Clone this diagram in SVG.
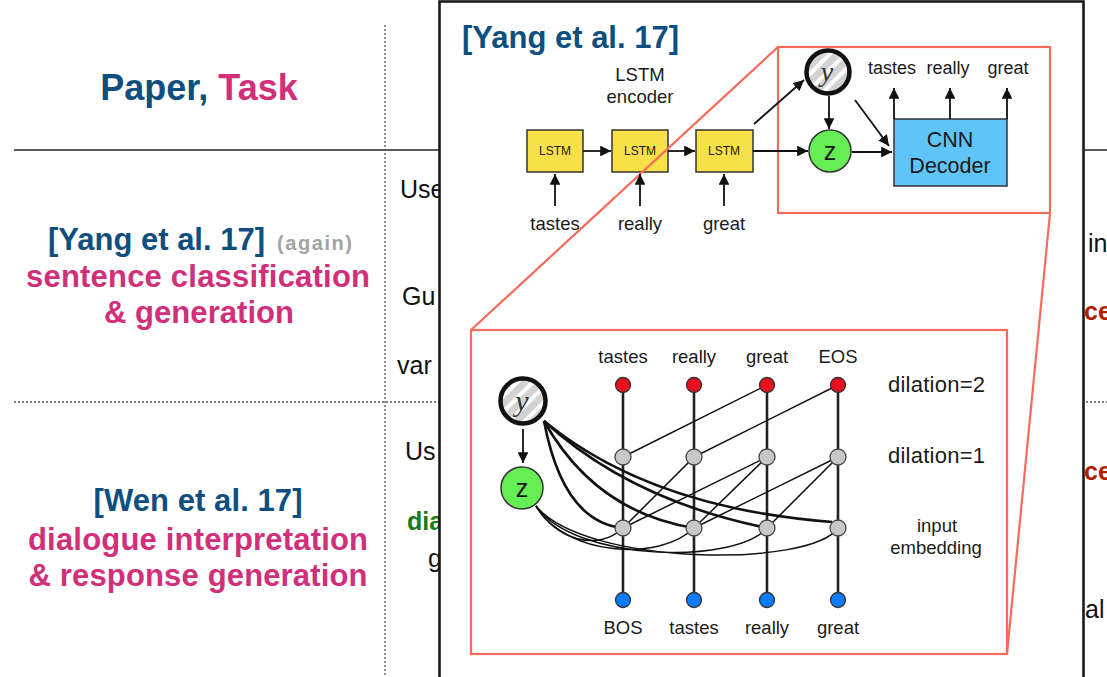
<svg xmlns="http://www.w3.org/2000/svg" width="1107" height="677" viewBox="0 0 1107 677">
  <style>
    .sans { font-family: "Liberation Sans", Arial, sans-serif; }
    .bold { font-family: "Liberation Sans", Arial, sans-serif; font-weight: bold; }
    .blue { fill: #0e4f80; }
    .pink { fill: #d12f7a; }
    .lbl { font-family: "Liberation Sans", Arial, sans-serif; fill: #1a1a1a; text-anchor: middle; }
    .rule { stroke: #222; stroke-width: 1.3; fill: none; }
    .dots { stroke: #555; stroke-width: 1.3; stroke-dasharray: 2 2; fill: none; }
    .arrow { stroke: #111; stroke-width: 1.8; fill: none; marker-end: url(#ah); }
    .stem { stroke: #222; stroke-width: 2.6; fill: none; }
    .thin { stroke: #111; stroke-width: 1.5; fill: none; }
    .thick { stroke: #111; stroke-width: 2.6; fill: none; }
    .zoomline { stroke: #f86a5a; stroke-width: 2.2; fill: none; }
    .lstm { fill: #f7e048; stroke: #333; stroke-width: 1.5; }
    .red { fill: #e8101e; stroke: #333; stroke-width: 1.3; }
    .grey { fill: #c8c8c8; stroke: #444; stroke-width: 1.3; }
    .bluen { fill: #0a7cff; stroke: #333; stroke-width: 1.3; }
    .znode { fill: #66ee55; stroke: #333; stroke-width: 1.5; }
    .ynode { fill: url(#hatch); stroke: #111; stroke-width: 4.5; }
    .ytext { font-family: "Liberation Serif", "Times New Roman", serif; font-style: italic; fill: #333; text-anchor: middle; }
  </style>
  <defs>
    <marker id="ah" viewBox="0 0 10 10" refX="10" refY="5" markerWidth="6" markerHeight="6" markerUnits="strokeWidth" orient="auto">
      <path d="M0,0 L10,5 L0,10 z" fill="#111"/>
    </marker>
    <pattern id="hatch" patternUnits="userSpaceOnUse" width="11" height="11" patternTransform="rotate(45)">
      <rect width="11" height="11" fill="#ffffff"/>
      <rect width="7" height="11" fill="#d2d2d2"/>
    </pattern>
  </defs>

  <rect width="1107" height="677" fill="#ffffff"/>

  <!-- table behind the pop-up -->
  <g id="table">
    <line class="rule" x1="14" y1="150" x2="1107" y2="150"/>
    <line class="dots" x1="14" y1="402" x2="1107" y2="402"/>
    <line class="dots" x1="385" y1="25" x2="385" y2="677"/>
  </g>

  <g id="header">
    <text class="bold" x="199" y="100" font-size="36" text-anchor="middle"><tspan class="blue">Paper,</tspan> <tspan class="pink">Task</tspan></text>
  </g>

  <g id="row-yang">
    <text class="bold blue" x="48" y="250" font-size="31" textLength="217" lengthAdjust="spacing">[Yang et al. 17]</text>
    <text class="bold" x="277" y="250" font-size="20" fill="#a3a3a3" textLength="75" lengthAdjust="spacing">(again)</text>
    <text class="bold pink" x="198" y="287" font-size="31" text-anchor="middle" textLength="344" lengthAdjust="spacing">sentence classification</text>
    <text class="bold pink" x="199" y="323" font-size="31" text-anchor="middle" textLength="190" lengthAdjust="spacing">&amp; generation</text>
    <text class="sans" x="400" y="198" font-size="25" fill="#111">Use</text>
    <text class="sans" x="402" y="305" font-size="25" fill="#111">Gu</text>
    <text class="sans" x="397" y="374" font-size="25" fill="#111">var</text>
  </g>

  <g id="row-wen">
    <text class="bold blue" x="198" y="511" font-size="31" text-anchor="middle" textLength="209" lengthAdjust="spacing">[Wen et al. 17]</text>
    <text class="bold pink" x="198" y="550" font-size="31" text-anchor="middle" textLength="340" lengthAdjust="spacing">dialogue interpretation</text>
    <text class="bold pink" x="198" y="586" font-size="31" text-anchor="middle" textLength="339" lengthAdjust="spacing">&amp; response generation</text>
    <text class="sans" x="405" y="460" font-size="25" fill="#111">Us</text>
    <text class="bold" x="407" y="530" font-size="25" fill="#1a7a1a">dia</text>
    <text class="sans" x="428" y="567" font-size="25" fill="#111">g</text>
  </g>

  <g id="right-column">
    <text class="sans" x="1088" y="252" font-size="25" fill="#111">in</text>
    <text class="bold" x="1084" y="320" font-size="25" fill="#b01c00">ce</text>
    <text class="bold" x="1084" y="480" font-size="25" fill="#b01c00">ce</text>
    <text class="sans" x="1085" y="618" font-size="25" fill="#111">al</text>
  </g>

  <!-- pop-up panel -->
  <g id="panel">
    <rect x="439.5" y="1.5" width="644" height="700" fill="#ffffff" stroke="#1a1a1a" stroke-width="2.6"/>
    <text class="bold blue" x="462" y="48" font-size="31" textLength="217" lengthAdjust="spacing">[Yang et al. 17]</text>
  </g>

  <!-- encoder / decoder overview -->
  <g id="encoder-label">
    <text class="lbl" x="640" y="81" font-size="18.5">LSTM</text>
    <text class="lbl" x="640" y="103" font-size="18.5">encoder</text>
  </g>
  <g id="lstm1"><rect class="lstm" x="527" y="130" width="56" height="42"/><text class="lbl" x="555" y="155" font-size="12">LSTM</text></g>
  <g id="lstm2"><rect class="lstm" x="612" y="130" width="56" height="42"/><text class="lbl" x="640" y="155" font-size="12">LSTM</text></g>
  <g id="lstm3"><rect class="lstm" x="696" y="130" width="57" height="42"/><text class="lbl" x="724" y="155" font-size="12">LSTM</text></g>
  <g id="enc-words">
    <text class="lbl" x="555" y="230" font-size="18.5">tastes</text>
    <text class="lbl" x="640" y="230" font-size="18.5">really</text>
    <text class="lbl" x="724" y="230" font-size="18.5">great</text>
  </g>
  <g id="y-top"><circle class="ynode" cx="828" cy="72" r="21.5"/><text class="ytext" x="827" y="81" font-size="28">y</text></g>
  <g id="z-top"><circle class="znode" cx="830" cy="151" r="21"/><text class="lbl" x="830" y="160" font-size="25">z</text></g>
  <g id="decoder">
    <rect x="894" y="119" width="113" height="67" fill="#5fc4f8" stroke="#333" stroke-width="1.5"/>
    <text class="lbl" x="950" y="147" font-size="21.5">CNN</text>
    <text class="lbl" x="950" y="173" font-size="21.5">Decoder</text>
  </g>
  <g id="dec-words">
    <text class="lbl" x="892" y="74" font-size="18">tastes</text>
    <text class="lbl" x="948" y="74" font-size="18">really</text>
    <text class="lbl" x="1008" y="74" font-size="18">great</text>
  </g>

  <!-- dilated convolution decoder, enlarged -->
  <g id="y-bottom"><circle class="ynode" cx="523" cy="401" r="22.5"/><text class="ytext" x="522" y="411" font-size="30">y</text></g>
  <g id="z-bottom"><circle class="znode" cx="522" cy="488" r="21"/><text class="lbl" x="522" y="497" font-size="25">z</text></g>
  <g id="layer-labels">
    <text class="lbl" x="623" y="363" font-size="18.5">tastes</text>
    <text class="lbl" x="694" y="363" font-size="18.5">really</text>
    <text class="lbl" x="767" y="363" font-size="18.5">great</text>
    <text class="lbl" x="838" y="363" font-size="18.5">EOS</text>
    <text class="lbl" x="623" y="634" font-size="18.5">BOS</text>
    <text class="lbl" x="694" y="634" font-size="18.5">tastes</text>
    <text class="lbl" x="767" y="634" font-size="18.5">really</text>
    <text class="lbl" x="838" y="634" font-size="18.5">great</text>
    <text class="sans" x="888" y="392" font-size="22" fill="#1a1a1a" textLength="97" lengthAdjust="spacing">dilation=2</text>
    <text class="sans" x="888" y="463" font-size="22" fill="#1a1a1a" textLength="97" lengthAdjust="spacing">dilation=1</text>
    <text class="lbl" x="937" y="532" font-size="18.5">input</text>
    <text class="lbl" x="936" y="554" font-size="18.5">embedding</text>
  </g>

  <g id="connectors">
    <!-- zoom callout -->
    <rect class="zoomline" x="778" y="47" width="272" height="166"/>
    <rect class="zoomline" x="471" y="330" width="536" height="324"/>
    <line class="zoomline" x1="778" y1="47" x2="471" y2="330"/>
    <line class="zoomline" x1="1050" y1="213" x2="1007" y2="654"/>

    <!-- encoder arrows -->
    <line class="arrow" x1="583" y1="151" x2="611" y2="151"/>
    <line class="arrow" x1="668" y1="151" x2="695" y2="151"/>
    <line class="arrow" x1="753" y1="151" x2="808" y2="151"/>
    <line class="arrow" x1="555" y1="206" x2="555" y2="174"/>
    <line class="arrow" x1="640" y1="206" x2="640" y2="174"/>
    <line class="arrow" x1="724" y1="206" x2="724" y2="174"/>
    <line class="arrow" x1="754" y1="124" x2="804" y2="80"/>
    <line class="arrow" x1="829" y1="96" x2="829" y2="129"/>
    <line class="arrow" x1="855" y1="100" x2="889" y2="146"/>
    <line class="arrow" x1="852" y1="152" x2="892" y2="152"/>
    <line class="arrow" x1="894" y1="119" x2="894" y2="88"/>
    <line class="arrow" x1="950" y1="119" x2="950" y2="88"/>
    <line class="arrow" x1="1007" y1="119" x2="1007" y2="88"/>

    <!-- column stems -->
    <line class="stem" x1="623" y1="385" x2="623" y2="600"/>
    <line class="stem" x1="694" y1="385" x2="694" y2="600"/>
    <line class="stem" x1="767" y1="385" x2="767" y2="600"/>
    <line class="stem" x1="838" y1="385" x2="838" y2="600"/>

    <!-- dilation=2 taps -->
    <line class="thin" x1="623" y1="457" x2="767" y2="385"/>
    <line class="thin" x1="694" y1="457" x2="838" y2="385"/>
    <!-- dilation=1 taps -->
    <line class="thin" x1="623" y1="528" x2="694" y2="457"/>
    <line class="thin" x1="623" y1="528" x2="767" y2="457"/>
    <line class="thin" x1="694" y1="528" x2="767" y2="457"/>
    <line class="thin" x1="694" y1="528" x2="838" y2="457"/>
    <line class="thin" x1="767" y1="528" x2="838" y2="457"/>

    <!-- y feeds every input position -->
    <path class="thick" d="M544,421 Q563,522 623,528"/>
    <path class="thick" d="M544,421 Q595,512 694,528"/>
    <path class="thick" d="M544,421 Q630,500 767,528"/>
    <path class="thick" d="M544,421 Q650,508 832,522"/>

    <!-- z feeds every input position -->
    <path class="thin" d="M536,506 C556,540 598,552 623,528"/>
    <path class="thin" d="M536,506 C565,556 660,562 694,528"/>
    <path class="thin" d="M536,506 C575,562 735,565 767,528"/>
    <path class="thin" d="M536,506 C585,566 810,568 838,528"/>

    <line class="arrow" x1="523" y1="429" x2="523" y2="463"/>
  </g>

  <g id="nodes">
    <circle class="red" cx="623" cy="385" r="7.5"/>
    <circle class="red" cx="694" cy="385" r="7.5"/>
    <circle class="red" cx="767" cy="385" r="7.5"/>
    <circle class="red" cx="838" cy="385" r="7.5"/>
    <circle class="grey" cx="623" cy="457" r="8"/>
    <circle class="grey" cx="694" cy="457" r="8"/>
    <circle class="grey" cx="767" cy="457" r="8"/>
    <circle class="grey" cx="838" cy="457" r="8"/>
    <circle class="grey" cx="623" cy="528" r="8"/>
    <circle class="grey" cx="694" cy="528" r="8"/>
    <circle class="grey" cx="767" cy="528" r="8"/>
    <circle class="grey" cx="838" cy="528" r="8"/>
    <circle class="bluen" cx="623" cy="600" r="7.5"/>
    <circle class="bluen" cx="694" cy="600" r="7.5"/>
    <circle class="bluen" cx="767" cy="600" r="7.5"/>
    <circle class="bluen" cx="838" cy="600" r="7.5"/>
  </g>
</svg>
